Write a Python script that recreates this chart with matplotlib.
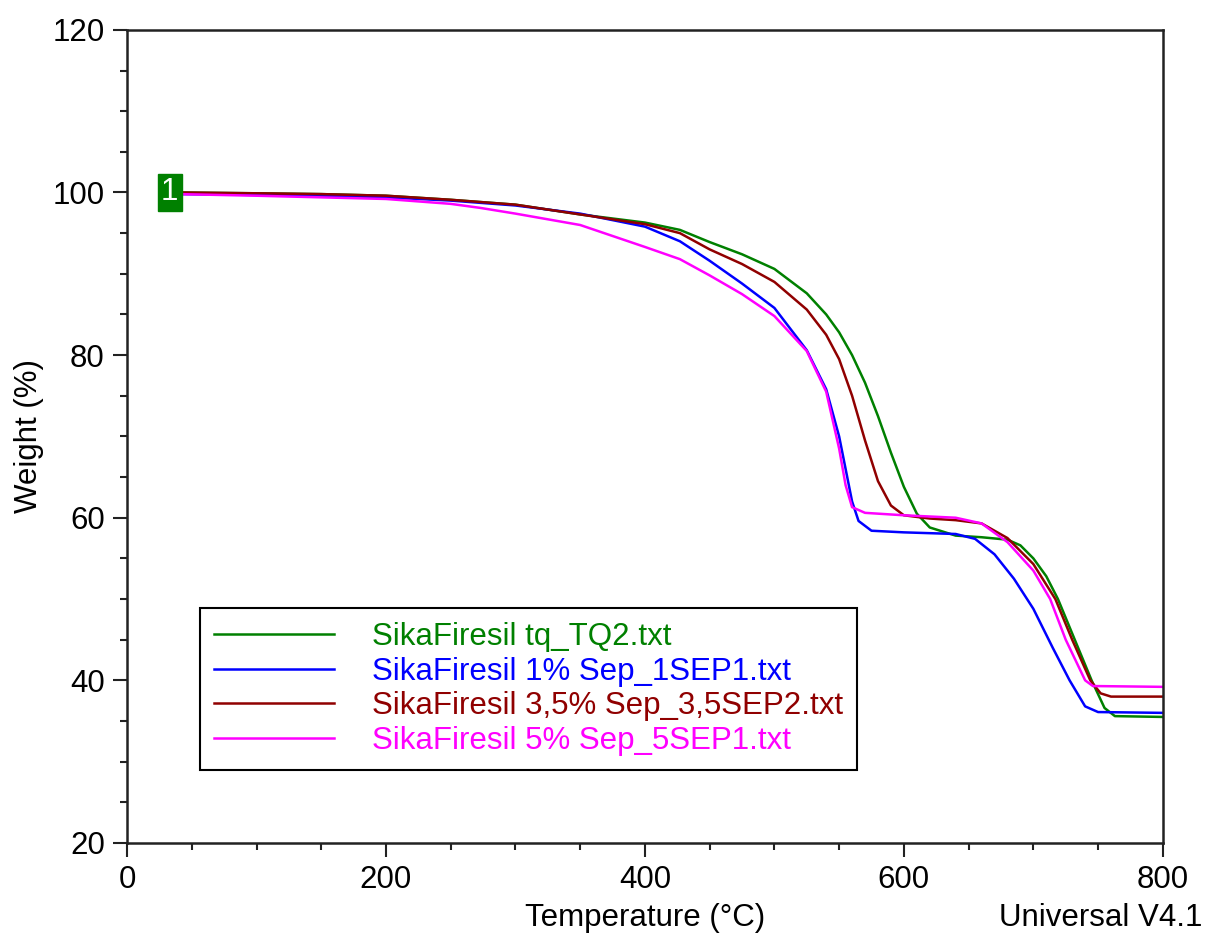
import matplotlib
matplotlib.use("Agg")
import matplotlib.pyplot as plt
from matplotlib.ticker import MultipleLocator

plt.rcParams['font.family'] = ['Liberation Sans', 'DejaVu Sans']

# ---- data ----
labels = ["SikaFiresil tq_TQ2.txt",
          "SikaFiresil 1% Sep_1SEP1.txt",
          "SikaFiresil 3,5% Sep_3,5SEP2.txt",
          "SikaFiresil 5% Sep_5SEP1.txt"]
colors = ["#008000", "#0000FF", "#900000", "#FF00FF"]

temp_tq = [40, 100, 150, 200, 250, 300, 350, 400, 427, 450, 475, 500, 525, 540, 550, 560, 570,
           580, 590, 600, 610, 620, 640, 660, 680, 690, 700, 710, 719, 732, 745, 755, 763, 800]
w_tq = [100.0, 99.9, 99.8, 99.6, 99.1, 98.5, 97.3, 96.3, 95.4, 93.9, 92.4, 90.6, 87.6, 85.0, 82.8,
        80.0, 76.6, 72.5, 68.0, 63.8, 60.5, 58.8, 57.8, 57.6, 57.3, 56.6, 55.0, 52.8, 50.0, 45.0,
        40.0, 36.6, 35.6, 35.5]

temp_1 = [40, 100, 150, 200, 250, 300, 350, 400, 427, 450, 475, 500, 525, 540, 550, 555, 560,
          565, 575, 600, 640, 655, 670, 685, 700, 715, 728, 740, 750, 800]
w_1 = [99.8, 99.7, 99.6, 99.4, 99.0, 98.4, 97.4, 95.8, 94.0, 91.6, 88.8, 85.8, 80.6, 75.8, 70.0,
       66.0, 62.0, 59.6, 58.4, 58.2, 58.0, 57.4, 55.5, 52.5, 48.8, 44.0, 40.0, 36.8, 36.1, 36.0]

temp_35 = [40, 100, 150, 200, 250, 300, 350, 400, 427, 450, 475, 500, 525, 540, 550, 560, 570,
           580, 590, 600, 620, 640, 660, 680, 700, 717, 730, 744, 752, 760, 800]
w_35 = [100.0, 99.9, 99.8, 99.6, 99.1, 98.5, 97.3, 96.1, 95.0, 93.0, 91.2, 89.0, 85.6, 82.5, 79.5,
        75.0, 69.5, 64.5, 61.5, 60.3, 59.9, 59.7, 59.3, 57.5, 54.3, 50.0, 45.0, 40.0, 38.4, 38.0, 38.0]

temp_5 = [40, 100, 150, 200, 250, 273, 300, 350, 400, 427, 450, 475, 500, 525, 540, 550, 555,
          560, 570, 600, 640, 660, 680, 700, 713, 725, 740, 746, 800]
w_5 = [99.8, 99.6, 99.4, 99.2, 98.6, 98.1, 97.4, 96.0, 93.3, 91.8, 89.8, 87.5, 84.8, 80.5, 75.5,
       68.5, 64.0, 61.3, 60.6, 60.3, 60.0, 59.3, 57.0, 53.5, 50.0, 45.0, 40.0, 39.3, 39.2]

series_t = [temp_tq, temp_1, temp_35, temp_5]
series_w = [w_tq, w_1, w_35, w_5]

FS = 22.5

fig = plt.figure(figsize=(12.1, 9.33), dpi=100)
ax = fig.add_axes([0.105, 0.0965, 0.856, 0.8715])

for t, w, c, lab in zip(series_t, series_w, colors, labels):
    ax.plot(t, w, color=c, lw=1.8, label=lab)

ax.set_xlim(0, 800)
ax.set_ylim(20, 120)
ax.xaxis.set_major_locator(MultipleLocator(200))
ax.xaxis.set_minor_locator(MultipleLocator(50))
ax.yaxis.set_major_locator(MultipleLocator(20))
ax.yaxis.set_minor_locator(MultipleLocator(5))
ax.tick_params(which='both', direction='out', top=False, right=False, width=1.5,
               color='#222222', labelsize=FS)
ax.tick_params(which='major', length=10, pad=6)
ax.tick_params(which='minor', length=5)
for s in ax.spines.values():
    s.set_linewidth(1.8)
    s.set_color('#222222')

ax.set_xlabel("Temperature (°C)", fontsize=FS)
ax.xaxis.set_label_coords(0.5, -0.074)
ax.set_ylabel("Weight (%)", fontsize=FS)
ax.yaxis.set_label_coords(-0.08, 0.5)
fig.text(0.994, 1 - 903 / 933, "Universal V4.1", fontsize=FS, ha='right', va='top')

# start marker
ax.text(33, 100, "1", fontsize=FS, color='white', ha='center', va='center',
        bbox=dict(boxstyle='square,pad=0.1', fc='#008000', ec='#008000'))

leg = ax.legend(loc='lower left', bbox_to_anchor=(0.0705, 0.0898), fontsize=FS,
                handlelength=3.85, handletextpad=1.2, labelspacing=0.15,
                fancybox=False, edgecolor='black', framealpha=1, borderpad=0.45,
                borderaxespad=0, labelcolor='linecolor')
leg.get_frame().set_linewidth(1.5)

fig.savefig("out.png", dpi=100)
